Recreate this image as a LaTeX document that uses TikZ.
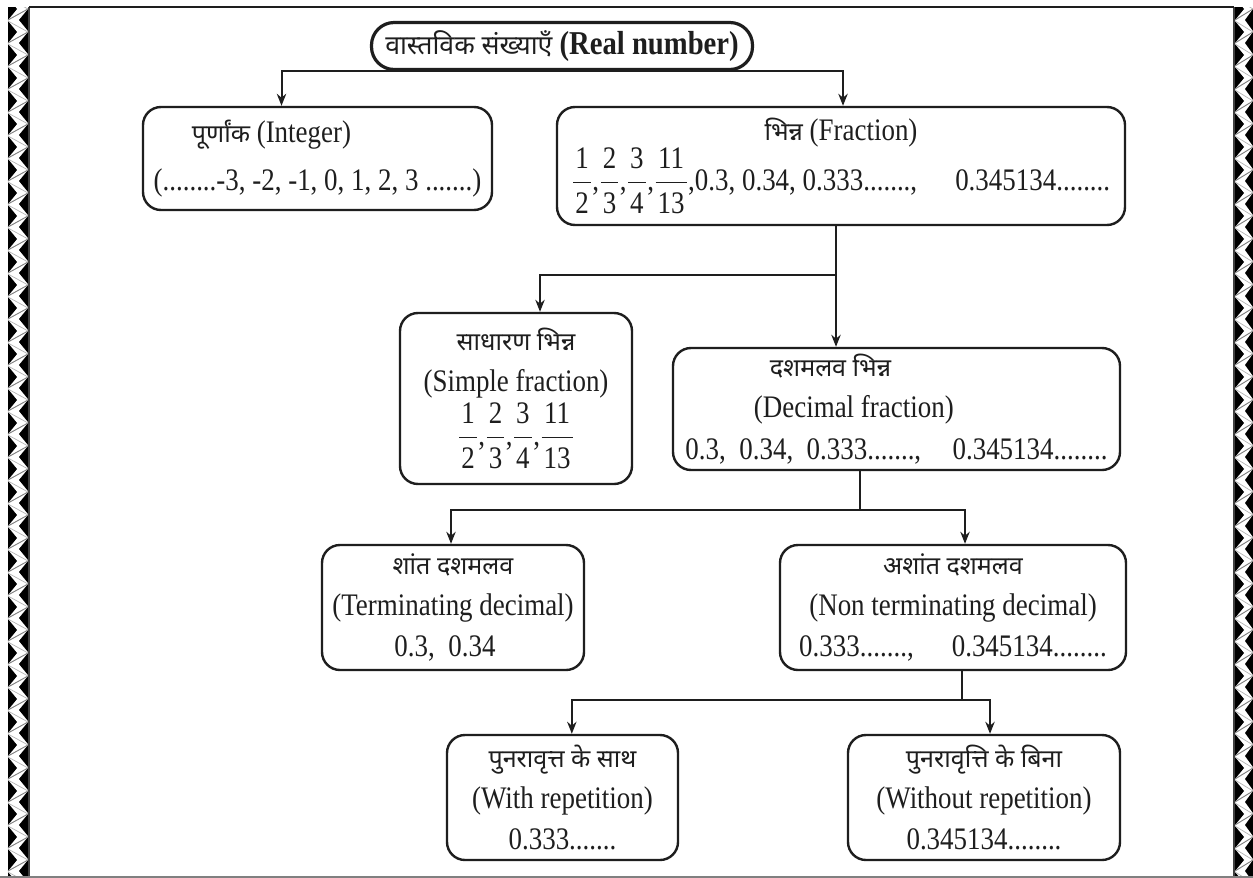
\documentclass[tikz,border=0pt]{standalone}
\usepackage{amsmath}
\usepackage{fontspec}
\setmainfont[FakeStretch=0.86]{Liberation Serif}
\newfontfamily\dev[Script=Devanagari,Scale=0.8]{Noto Sans}
\usetikzlibrary{arrows.meta}
\definecolor{ink}{HTML}{1E1E1E}
\newcommand\fr[2]{$\genfrac{}{}{0.7pt}{0}{\mbox{\hspace{1.5pt}#1\hspace{1.5pt}}}{\mbox{\hspace{1.5pt}#2\hspace{1.5pt}}}$}
\newcommand\padr[1]{\hbox to #1{}}
\begin{document}
\begin{tikzpicture}[x=0.75pt,y=-0.75pt,
  box/.style={draw=ink,line width=1.8pt,rounded corners=13.5pt,align=center,inner sep=0pt,text=ink,font=\fontsize{23.5}{31}\selectfont},
  ln/.style={draw=ink,line width=1.5pt},
  arr/.style={ln,-{Stealth[length=9pt,width=7pt]}},
  braid/.style={fill=black}]
\useasboundingbox (0,0) rectangle (1253,878);
\fill[white] (0,0) rectangle (1253,878);
% border strips
\begin{scope}
\clip (0,7) rectangle (1253,878);
\foreach \k in {0,...,38}{
  \fill[braid] (8,{\k*23-2}) -- (17,{\k*23+9}) -- (8,{\k*23+20}) -- cycle;
  \fill[braid] (28,{\k*23+9}) -- (19,{\k*23+20}) -- (28,{\k*23+31}) -- cycle;
  \draw[gray,line width=0.7pt] (8,{\k*23+20}) -- (28,{\k*23+9});
  \draw[gray!60,line width=0.5pt] (8,{\k*23-2}) -- (28,{\k*23+9});
  \fill[braid] (1235,{\k*23-2}) -- (1244,{\k*23+9}) -- (1235,{\k*23+20}) -- cycle;
  \fill[braid] (1253,{\k*23+9}) -- (1245,{\k*23+20}) -- (1253,{\k*23+31}) -- cycle;
  \draw[gray,line width=0.7pt] (1235,{\k*23+20}) -- (1253,{\k*23+9});
  \draw[gray!60,line width=0.5pt] (1235,{\k*23-2}) -- (1253,{\k*23+9});
}
\end{scope}
\draw[ink!85,line width=1.5pt] (29,7) -- (29,878);
\draw[ink!85,line width=1.5pt] (1234,7) -- (1234,878);
\draw[ink,line width=2pt] (29,7) -- (1234,7);
\draw[gray,line width=1.5pt] (0,876.5) -- (1253,876.5);
% nodes
\node[box,line width=2.4pt,rounded corners=17pt,minimum width=285.75pt,minimum height=35.25pt,font=\fontsize{25}{30}\selectfont] (top) at (562,46)
  {{\dev\bfseries वास्तविक संख्याएँ} {\bfseries(Real number)}};
\node[box,minimum width=261.75pt,minimum height=77.25pt] (int) at (317.5,158.5)
  {{\dev पूर्णांक} (Integer)\padr{69pt}\\[5pt](........-3, -2, -1, 0, 1, 2, 3 .......)};
\node[box,minimum width=426pt,minimum height=88.5pt] (frac) at (841,166)
  {{\dev भिन्न} (Fraction)\\[-1pt]\fr12,\fr23,\fr34,\fr{11}{13},0.3, 0.34, 0.333.......,\quad\ 0.345134........};
\node[box,minimum width=174pt,minimum height=128.25pt] (simp) at (516,398.5)
  {{\dev साधारण भिन्न}\\(Simple fraction)\\[2pt]\fr12,\fr23,\fr34,\fr{11}{13}};
\node[box,minimum width=335.25pt,minimum height=91.5pt] (dec) at (896.5,409)
  {{\dev दशमलव भिन्न}\padr{99pt}\\(Decimal fraction)\padr{64pt}\\0.3,\ \ 0.34,\ \ 0.333.......,\quad 0.345134........};
\node[box,minimum width=196.5pt,minimum height=93.75pt] (term) at (453,607.5)
  {{\dev शांत दशमलव}\\(Terminating decimal)\\0.3,\ \ 0.34\padr{12pt}};
\node[box,minimum width=259.5pt,minimum height=93.75pt] (nont) at (953,607.5)
  {{\dev अशांत दशमलव}\\(Non terminating decimal)\\0.333.......,\quad\ 0.345134........};
\node[box,minimum width=173.25pt,minimum height=93.75pt] (wrep) at (562.5,797.5)
  {{\dev पुनरावृत्त के साथ}\\(With repetition)\\0.333.......};
\node[box,minimum width=204pt,minimum height=93.75pt] (wout) at (984,797.5)
  {{\dev पुनरावृत्ति के बिना}\\(Without repetition)\\0.345134........};
% connectors
\draw[arr] (top.south) -| ([xshift=-27pt]int.north);
\draw[arr] (top.south) -| ([xshift=1.5pt]frac.north);
\coordinate (j1) at (836,275);
\draw[arr] (j1 |- frac.south) -- (j1 |- dec.north);
\draw[arr] (j1) -| ([xshift=18pt]simp.north);
\coordinate (j2) at (860,510);
\draw[ln] (j2 |- dec.south) -- (j2);
\draw[arr] (j2) -| ([xshift=-1.5pt]term.north);
\draw[arr] (j2) -| ([xshift=9pt]nont.north);
\coordinate (j3) at (962,700);
\draw[ln] (j3 |- nont.south) -- (j3);
\draw[arr] (j3) -| ([xshift=7pt]wrep.north);
\draw[arr] (j3) -| ([xshift=4.5pt]wout.north);
\end{tikzpicture}
\end{document}
